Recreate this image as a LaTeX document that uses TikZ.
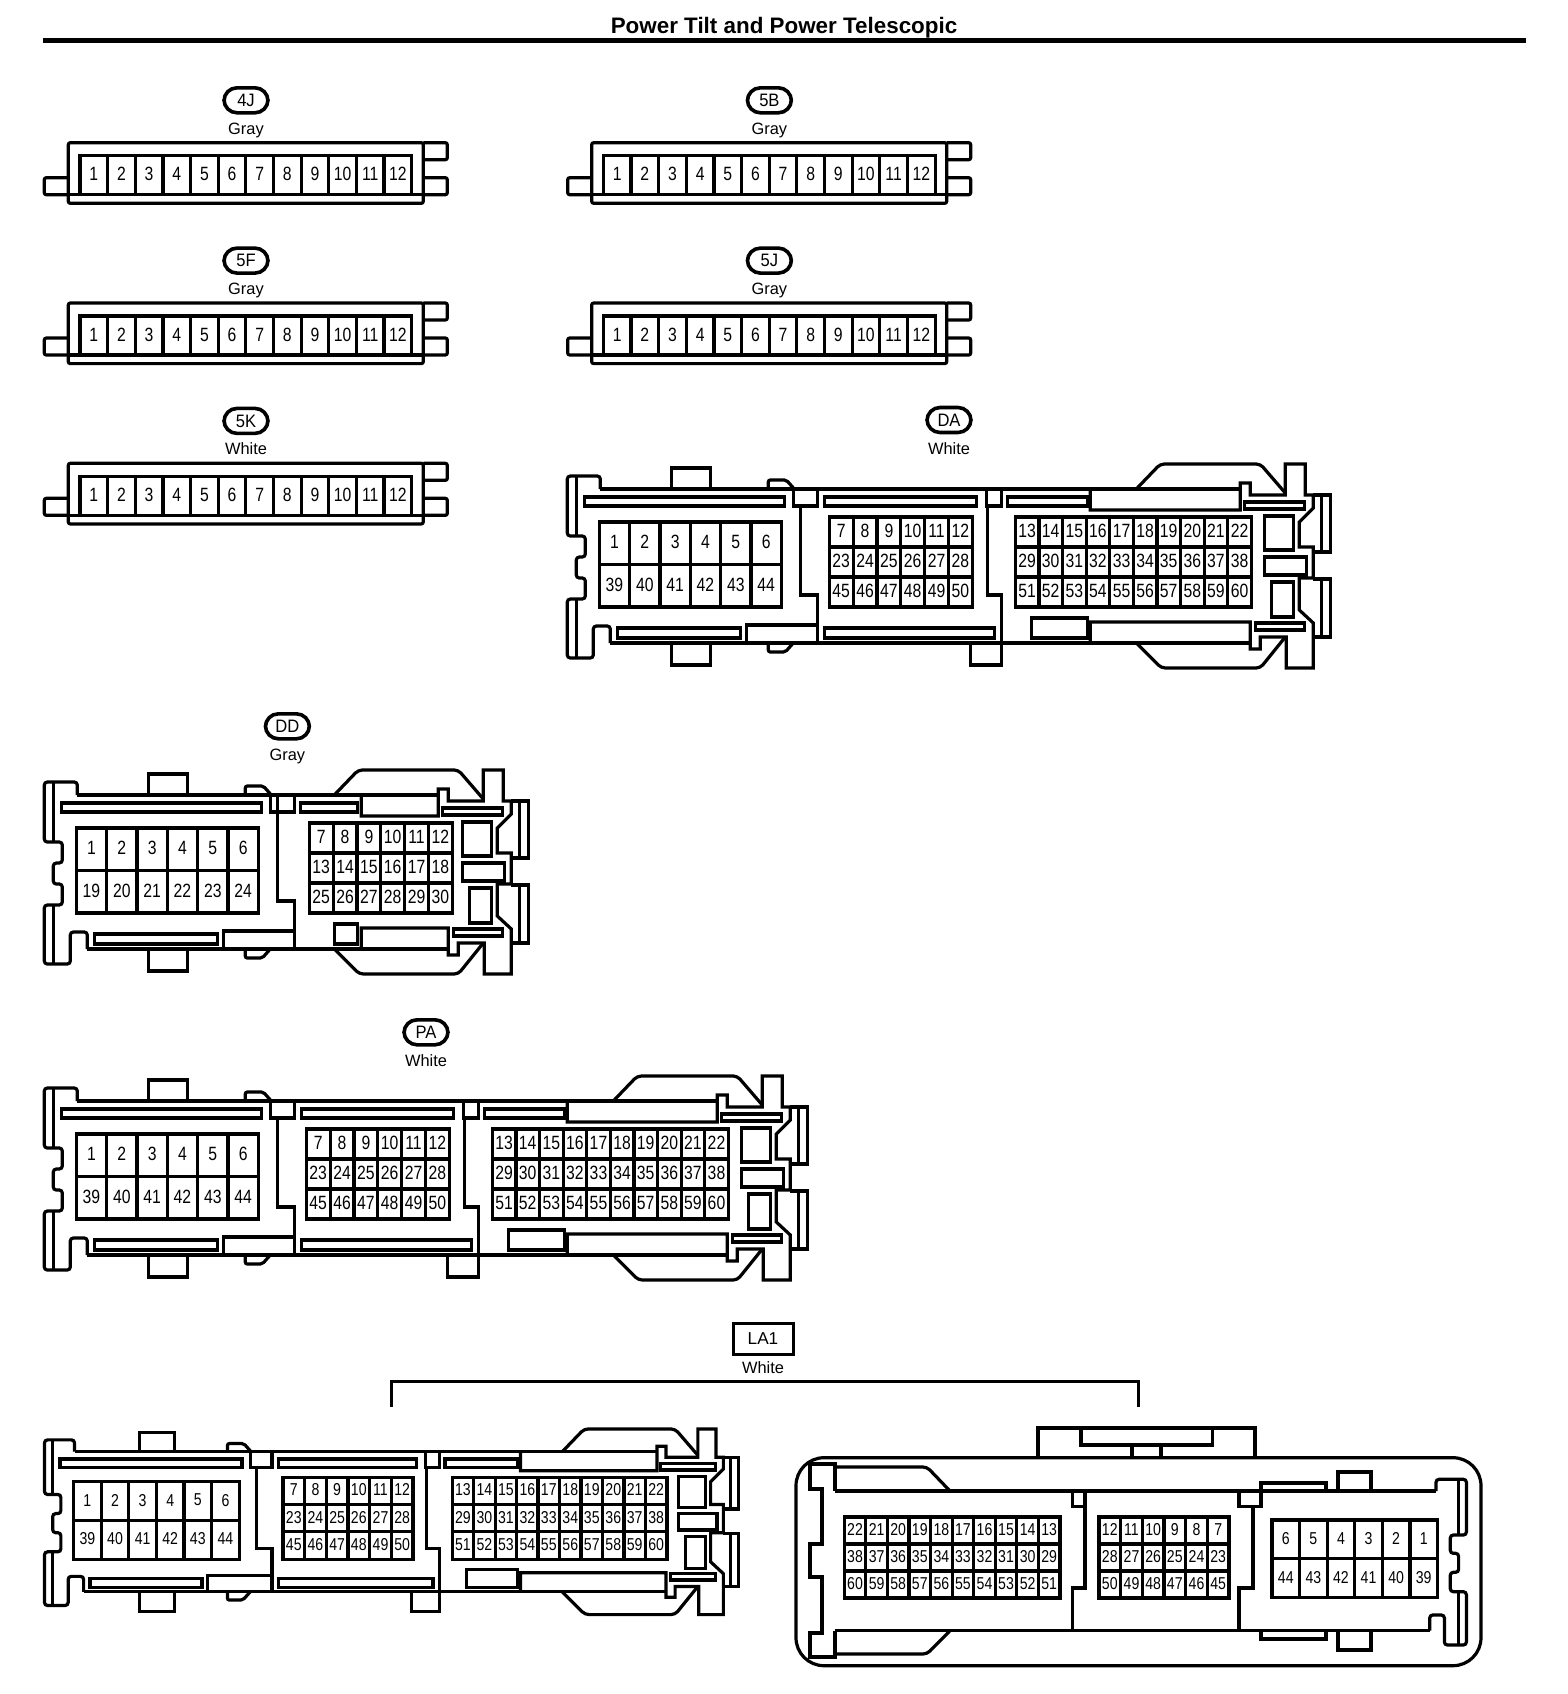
\documentclass[tikz,border=0pt]{standalone}
\usepackage{fontspec}
\setmainfont{Liberation Sans}
\newfontfamily\pinfont[FakeStretch=0.82]{Liberation Sans}
\newfontfamily\tagfont[FakeStretch=0.92]{Liberation Sans}
\usetikzlibrary{positioning,calc}
\def\pinsize{9.6}
\tikzset{
  wire/.style={line width=1.6pt,line join=miter},
  heavywire/.style={line width=2.4pt},
  pinlabel/.style={font=\pinfont\fontsize{\pinsize}{\pinsize}\selectfont,inner sep=0pt,yshift=0.5pt},
  ovaltag/.style={draw,line width=1.8pt,rounded corners=6.5pt,minimum width=22pt,minimum height=12.5pt,inner sep=0pt,font=\tagfont\fontsize{9}{9}\selectfont},
  squaretag/.style={draw,line width=1.5pt,minimum width=30pt,minimum height=15.5pt,inner sep=0pt,font=\fontsize{8.6}{9}\selectfont},
  colourlabel/.style={anchor=base,inner sep=0pt,font=\fontsize{8.2}{9}\selectfont}
}
% x1,y1,x2,y2,columns,rows,labels
\newcommand{\pingrid}[7]{
  \draw[wire] (#1,#2) rectangle (#3,#4);
  \foreach \c in {1,...,#5} {
    \pgfmathsetmacro\gx{#1+\c*(#3-#1)/#5}
    \ifnum\c<#5 \draw[wire] (\gx,#2) -- (\gx,#4); \fi
  }
  \foreach \r in {1,...,#6} {
    \pgfmathsetmacro\gy{#2+\r*(#4-#2)/#6}
    \ifnum\r<#6 \draw[wire] (#1,\gy) -- (#3,\gy); \fi
  }
  \foreach \rowlist [count=\r from 0] in {#7} {
    \foreach \lab [count=\c from 0] in \rowlist {
      \pgfmathsetmacro\cx{#1+(\c+.5)*(#3-#1)/#5}
      \pgfmathsetmacro\cy{#2+(\r+.5)*(#4-#2)/#6}
      \node[pinlabel] (pin\lab) at (\cx,\cy) {\lab};
    }
  }
}
% small 12 pin connector: name, x, y, colour
\newcommand{\blockconn}[4]{
  \node[ovaltag] (tag#1) at (#2+177.7,#3-42.4) {#1};
  \node[colourlabel] (col#1) at (#2+177.7,#3-8.7) {#4};
  \begin{scope}[shift={(#2,#3)},name prefix=b#1-]
    \draw[wire,rounded corners=1pt] (0,0) rectangle (355,60.6);
    \draw[wire] (0,52) -- (355,52);
    \draw[wire,rounded corners=1pt] (0,35) -- (-24,35) -- (-24,52) -- (0,52);
    \draw[wire,rounded corners=1pt] (355,0) -- (379,0) -- (379,17) -- (355,17);
    \draw[wire,rounded corners=1pt] (355,35) -- (379,35) -- (379,52) -- (355,52);
    \pingrid{11.7}{13}{343.4}{52}{12}{1}{{1,2,3,4,5,6,7,8,9,10,11,12}}
  \end{scope}
}
% left housing with the 2 row block; #1 is the second row
\newcommand{\leftend}[1]{
  \draw[wire,rounded corners=1.5pt] (33,0) -- (33,-13) -- (0,-13) -- (0,47) -- (18,47) -- (18,68) -- (9,68) -- (9,89) -- (18,89) -- (18,110) -- (0,110) -- (0,169) -- (26,169) -- (26,137) -- (43,137) -- (43,154);
  \draw[wire] (9,-13) -- (9,47) (9,110) -- (9,169);
  \draw[wire] (104,0) -- (104,-21) -- (143,-21) -- (143,0);
  \draw[wire] (104,154) -- (104,176) -- (143,176) -- (143,154);
  \draw[wire,rounded corners=1pt] (201,0) -- (201,-9) -- (219,-9) -- (227,0);
  \draw[wire,rounded corners=1pt] (201,154) -- (201,163) -- (218,163) -- (226,154);
  \draw[wire] (17,8) rectangle (217,17);
  \draw[wire] (50,139) rectangle (173,149);
  \draw[wire] (179,154) -- (179,136) -- (250,136);
  \draw[wire] (226,0) -- (226,17) -- (250,17) -- (250,0);
  \draw[wire] (233,17) -- (233,106) -- (250,106) -- (250,154);
  \pingrid{32}{33}{214}{118}{6}{2}{{1,2,3,4,5,6},{#1}}
}
% latch end of the housing; #1 is its offset, #2 and #3 start the long boxes
\newcommand{\rightend}[3]{
  \begin{scope}[shift={(#1,0)}]
    \draw[wire] (33-#1,0) -- (239,0);
    \draw[wire] (43-#1,154) -- (249,154);
    \draw[wire] (#2,0) -- (#2,21) -- (239,21) -- (239,-6) -- (249,-6) -- (249,6) -- (284,6) -- (284,-25) -- (304,-25) -- (304,6) -- (312,6) -- (312,19) -- (298,33) -- (298,58) -- (312,58) -- (312,89) -- (298,89) -- (298,121) -- (312,134) -- (312,179) -- (285,179) -- (285,148) -- (259,148) -- (259,160) -- (249,160) -- (249,133) -- (#3,133) -- (#3,154);
    \draw[wire,rounded corners=2pt] (135,0) -- (159,-25) -- (259,-25) -- (284,4);
    \draw[wire,rounded corners=2pt] (284,148) -- (259,179) -- (160,179) -- (135,154);
    \draw[wire] (312,6) -- (329,6) -- (329,63) -- (312,63) (320,6) -- (320,63);
    \draw[wire] (312,90) -- (329,90) -- (329,148) -- (312,148) (320,90) -- (320,148);
    \draw[wire] (243,13) rectangle (303,20);
    \draw[wire] (254,134) rectangle (303,141);
    \draw[wire] (263,27) rectangle (292,61);
    \draw[wire] (263,68) rectangle (305,86);
    \draw[wire] (270,93) rectangle (292,128);
  \end{scope}
}
% the three block housing
\newcommand{\threeblock}{
  \leftend{39,40,41,42,43,44}
  \rightend{434}{89}{89}
  \draw[wire] (257,8) rectangle (409,17);
  \draw[wire] (257,139) rectangle (427,149);
  \draw[wire] (419,0) -- (419,17) -- (434,17) -- (434,0);
  \draw[wire] (420,17) -- (420,106) -- (434,106) -- (434,176) -- (403,176) -- (403,154);
  \draw[wire] (440,8) rectangle (520,17);
  \draw[wire] (464,129) rectangle (520,149);
  \pingrid{262}{28}{405}{118}{6}{3}{{7,8,9,10,11,12},{23,24,25,26,27,28},{45,46,47,48,49,50}}
  \pingrid{448}{28}{684}{118}{10}{3}{{13,14,15,16,17,18,19,20,21,22},{29,30,31,32,33,34,35,36,37,38},{51,52,53,54,55,56,57,58,59,60}}
}
\begin{document}
\begin{tikzpicture}[x=0.5pt,y=-0.5pt]
  \useasboundingbox (0,0) rectangle (1568,1694);
  \node[inner sep=0pt,font=\bfseries\fontsize{11.2}{12}\selectfont] (title) at (784,28) {Power Tilt and Power Telescopic};
  \coordinate (ruleL) at (43,40.3);
  \coordinate (ruleR) at (1526,40.3);
  \draw[heavywire] (ruleL) -- (ruleR);

  \blockconn{4J}{68.3}{142.7}{Gray}
  \blockconn{5B}{591.7}{142.7}{Gray}
  \blockconn{5F}{68.3}{303}{Gray}
  \blockconn{5J}{591.7}{303}{Gray}
  \blockconn{5K}{68.3}{463.3}{White}

  % DA
  \node[ovaltag] (tagDA) at (949,420) {DA};
  \node[colourlabel] (colDA) at (949,454.5) {White};
  \begin{scope}[shift={(567.3,489)},name prefix=da-]
    \threeblock
  \end{scope}

  % DD
  \node[ovaltag] (tagDD) at (287.4,726.3) {DD};
  \node[colourlabel] (colDD) at (287.4,760.5) {Gray};
  \begin{scope}[shift={(44.3,795)},name prefix=dd-]
    \leftend{19,20,21,22,23,24}
    \rightend{155}{162}{162}
    \draw[wire] (233,0) -- (233,17);
    \draw[wire] (256,8) rectangle (313,17);
    \draw[wire] (290,129) rectangle (313,149);
    \pingrid{265}{28}{408}{118}{6}{3}{{7,8,9,10,11,12},{13,14,15,16,17,18},{25,26,27,28,29,30}}
  \end{scope}

  % PA
  \node[ovaltag] (tagPA) at (426,1032.3) {PA};
  \node[colourlabel] (colPA) at (426,1066.5) {White};
  \begin{scope}[shift={(44.3,1101)},name prefix=pa-]
    \threeblock
  \end{scope}

  % LA1
  \node[squaretag] (tagLA) at (763,1339) {LA1};
  \node[colourlabel] (colLA) at (763,1373) {White};
  \coordinate (brL) at (391.4,1407);
  \coordinate (brR) at (1138.7,1407);
  \draw[wire] (brL) |- (764,1381.7) -| (brR);
  \begin{scope}[shift={(44.5,1451.7)},scale=0.91,name prefix=lal-]
    \def\pinsize{8.6}
    \threeblock
  \end{scope}
  \begin{scope}[name prefix=lar-]
    \def\pinsize{8.6}
    \draw[wire,rounded corners=14pt] (796,1457.7) rectangle (1481,1665.7);
    \draw[wire] (1038,1457.7) -- (1038,1428) -- (1255,1428) -- (1255,1457.7);
    \draw[wire] (1132,1457.7) -- (1132,1445) (1161,1445) -- (1161,1457.7);
    \draw[wire] (1081,1428) -- (1081,1445) -- (1212.5,1445) -- (1212.5,1428);
    \draw[wire] (835,1491) -- (1436,1491);
    \draw[wire] (835,1630.7) -- (1430,1630.7);
    \draw[wire] (835,1491) -- (835,1464) -- (810,1464) -- (810,1489) -- (822,1489) -- (822,1544) -- (810,1544) -- (810,1577) -- (822,1577) -- (822,1633) -- (810,1633) -- (810,1657) -- (835,1657) -- (835,1630.7);
    \draw[wire,rounded corners=2pt] (835,1467) -- (927,1467) -- (950,1491);
    \draw[wire,rounded corners=2pt] (835,1654) -- (927,1654) -- (950,1630.7);
    \draw[wire] (1072.5,1491) -- (1072.5,1506.7) -- (1085,1506.7);
    \draw[wire] (1085,1491) -- (1085,1588) -- (1072.5,1588) -- (1072.5,1630.7);
    \draw[wire] (1239,1491) -- (1239,1506.7) -- (1261,1506.7) -- (1261,1491);
    \draw[wire] (1253,1506.7) -- (1253,1588) -- (1239,1588) -- (1239,1630.7);
    \draw[wire] (1261,1491) -- (1261,1483) -- (1326,1483) -- (1326,1491);
    \draw[wire] (1261,1630.7) -- (1261,1639) -- (1326,1639) -- (1326,1630.7);
    \draw[wire] (1338,1491) -- (1338,1472) -- (1371,1472) -- (1371,1491);
    \draw[wire] (1338,1630.7) -- (1338,1650) -- (1371,1650) -- (1371,1630.7);
    \draw[wire,rounded corners=1.5pt] (1436,1491) -- (1436,1479.3) -- (1466.4,1479.3) -- (1466.4,1535) -- (1450.3,1535) -- (1450.3,1553.3) -- (1458.6,1553.3) -- (1458.6,1572.3) -- (1450.3,1572.3) -- (1450.3,1591.7) -- (1466.4,1591.7) -- (1466.4,1645) -- (1444.4,1645) -- (1444.4,1615) -- (1429.7,1615) -- (1429.7,1630.7);
    \draw[wire] (1458.6,1479.3) -- (1458.6,1535) (1458.6,1591.7) -- (1458.6,1645);
    \pingrid{844.3}{1517}{1060}{1598}{10}{3}{{22,21,20,19,18,17,16,15,14,13},{38,37,36,35,34,33,32,31,30,29},{60,59,58,57,56,55,54,53,52,51}}
    \pingrid{1099}{1517}{1229}{1598}{6}{3}{{12,11,10,9,8,7},{28,27,26,25,24,23},{50,49,48,47,46,45}}
    \pingrid{1272}{1520}{1437.5}{1597.7}{6}{2}{{6,5,4,3,2,1},{44,43,42,41,40,39}}
  \end{scope}
\end{tikzpicture}
\end{document}
